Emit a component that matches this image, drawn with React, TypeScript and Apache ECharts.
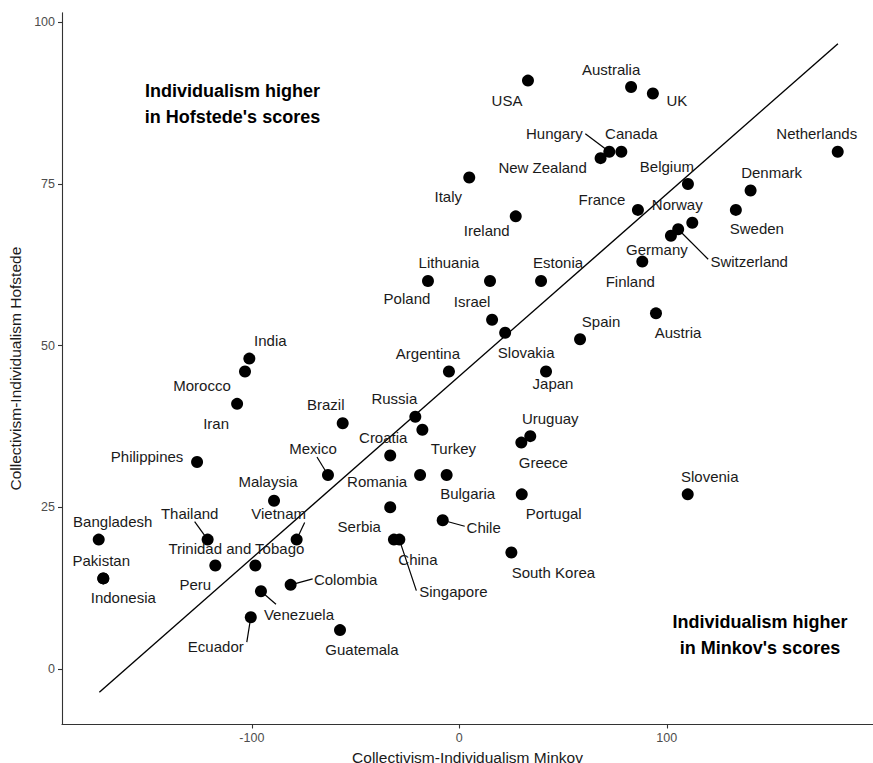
import React, { useEffect, useRef } from "react";
import * as echarts from "echarts";

const countries = [
  "USA", "Australia", "UK", "Hungary", "Canada", "New Zealand", "Netherlands", "Belgium", "Denmark",
  "France", "Norway", "Sweden", "Switzerland", "Germany", "Finland", "Austria", "Italy", "Ireland",
  "Poland", "Lithuania", "Estonia", "Israel", "Slovakia", "Spain", "Japan", "Argentina", "Russia",
  "Turkey", "Croatia", "Brazil", "Mexico", "Romania", "Bulgaria", "Serbia", "Chile", "China",
  "Singapore", "Uruguay", "Greece", "Portugal", "South Korea", "Slovenia", "Guatemala", "Colombia",
  "Venezuela", "Ecuador", "Trinidad and Tobago", "Peru", "Thailand", "Vietnam", "Bangladesh",
  "Pakistan", "Indonesia", "Malaysia", "Philippines", "Iran", "Morocco", "India",
];
const minkov = [
  33.1, 82.8, 93.3, 72.3, 78.1, 68.1, 182.4, 110.2, 140.4,
  86.1, 112.3, 133.3, 105.5, 102.0, 88.2, 94.8, 4.8, 27.2,
  -15.1, 14.8, 39.4, 15.8, 22.1, 58.2, 41.8, -5.0, -21.2,
  -17.8, -33.3, -56.2, -63.3, -18.9, -6.1, -33.3, -8.0, -31.5,
  -28.9, 34.2, 29.9, 30.1, 25.1, 110.1, -57.5, -81.3,
  -95.6, -100.5, -98.3, -117.6, -121.3, -78.4, -173.8,
  -171.6, -171.6, -89.3, -126.4, -107.1, -103.3, -101.2,
];
const hofstede = [
  91, 90, 89, 80, 80, 79, 80, 75, 74,
  71, 69, 71, 68, 67, 63, 55, 76, 70,
  60, 60, 60, 54, 52, 51, 46, 46, 39,
  37, 33, 38, 30, 30, 30, 25, 23, 20,
  20, 36, 35, 27, 18, 27, 6, 13,
  12, 8, 16, 16, 20, 20, 20,
  14, 14, 26, 32, 41, 46, 48,
];
// fitted line end points (Minkov, Hofstede)
const fitX = [-173.5, 182.5];
const fitY = [-3.6, 96.7];
const xTicks = [-100, 0, 100];
const yTicks = [0, 25, 50, 75, 100];

// label centre offsets from each dot, in pixels (layout only)
const labelOffset: Record<string, [number, number]> = {
  USA: [-21, 20], Australia: [-20, -18], UK: [24, 7], Hungary: [-55, -18], Canada: [10, -18],
  "New Zealand": [-58, 9], Netherlands: [-21, -18], Belgium: [-21, -18], Denmark: [21, -18],
  France: [-36, -10], Norway: [-15, -18], Sweden: [21, 19], Switzerland: [71, 32], Germany: [-14, 14],
  Finland: [-12, 20], Austria: [22, 19], Italy: [-21, 19], Ireland: [-29, 14], Poland: [-21, 18],
  Lithuania: [-41, -18], Estonia: [17, -18], Israel: [-20, -18], Slovakia: [21, 20], Spain: [21, -18],
  Japan: [7, 12], Argentina: [-21, -18], Russia: [-21, -18], Turkey: [31, 19], Croatia: [-7, -18],
  Brazil: [-17, -19], Mexico: [-15, -26], Romania: [-43, 7], Bulgaria: [21, 19], Serbia: [-31, 19],
  Chile: [41, 7], China: [24, 20], Singapore: [54, 52], Uruguay: [20, -18], Greece: [22, 20],
  Portugal: [32, 19], "South Korea": [42, 20], Slovenia: [22, -18], Guatemala: [22, 19],
  Colombia: [55, -5], Venezuela: [38, 23], Ecuador: [-35, 29], "Trinidad and Tobago": [-19, -17],
  Peru: [-20, 19], Thailand: [-18, -26], Vietnam: [-18, -26], Bangladesh: [14, -18], Pakistan: [-2, -18],
  Indonesia: [20, 19], Malaysia: [-6, -19], Philippines: [-50, -6], Iran: [-21, 20], Morocco: [-43, 14],
  India: [21, -18],
};
// connector segment end offsets from the dot (layout only)
const segmentEnd: Record<string, [number, number]> = {
  Hungary: [-24, -18], Switzerland: [30, 30], Mexico: [-11, -18], Chile: [22, 6],
  Singapore: [17, 51], Colombia: [22, -6], Venezuela: [15, 13], Ecuador: [-4, 25],
  Thailand: [-13, -18], Vietnam: [8, -17],
};

const FONT = "'Liberation Sans', Arial, Helvetica, sans-serif";

export default function App() {
  const ref = useRef<HTMLDivElement>(null);
  useEffect(() => {
    if (!ref.current) return;
    const chart = echarts.init(ref.current, undefined, { renderer: "svg" });
    const pts = countries.map((c, i) => [minkov[i], hofstede[i], i]);
    const segs = pts.filter((d) => segmentEnd[countries[d[2]]]);
    const fit = fitX.map((x, i) => [x, fitY[i]]);
    chart.setOption({
      animation: false,
      backgroundColor: "#ffffff",
      textStyle: { fontFamily: FONT },
      grid: { left: 62, right: 0, top: 12.7, bottom: 38.5, outerBoundsMode: "none", containLabel: false },
      xAxis: {
        type: "value",
        min: -191.5,
        max: 199.4,
        splitLine: { show: false },
        axisLine: { show: true, onZero: false, lineStyle: { color: "#333333", width: 1.1 } },
        axisTick: { show: true, customValues: xTicks, length: 4, lineStyle: { color: "#333333", width: 1.1 } },
        axisLabel: { customValues: xTicks, color: "#4d4d4d", fontSize: 12.5, margin: 7, fontFamily: FONT },
        name: "Collectivism-Individualism Minkov",
        nameLocation: "middle",
        nameGap: 19,
        nameTextStyle: { color: "#1a1a1a", fontSize: 15.5, fontFamily: FONT },
      },
      yAxis: {
        type: "value",
        min: -8.6,
        max: 101.5,
        splitLine: { show: false },
        axisLine: { show: true, onZero: false, lineStyle: { color: "#333333", width: 1.1 } },
        axisTick: { show: true, customValues: yTicks, length: 4, lineStyle: { color: "#333333", width: 1.1 } },
        axisLabel: { customValues: yTicks, color: "#4d4d4d", fontSize: 12.5, margin: 7, fontFamily: FONT },
        name: "Collectivism-Individualism Hofstede",
        nameLocation: "middle",
        nameGap: 35,
        nameTextStyle: { color: "#1a1a1a", fontSize: 15.5, fontFamily: FONT },
      },
      graphic: [
        {
          type: "text",
          x: 232.5,
          y: 104,
          style: {
            text: "Individualism higher\nin Hofstede's scores",
            align: "center",
            verticalAlign: "middle",
            lineHeight: 26,
            fontSize: 18,
            fontWeight: "bold",
            fontFamily: FONT,
            fill: "#000000",
          },
        },
        {
          type: "text",
          x: 760,
          y: 635,
          style: {
            text: "Individualism higher\nin Minkov's scores",
            align: "center",
            verticalAlign: "middle",
            lineHeight: 26,
            fontSize: 18,
            fontWeight: "bold",
            fontFamily: FONT,
            fill: "#000000",
          },
        },
      ],
      series: [
        {
          type: "line",
          data: fit,
          symbol: "none",
          lineStyle: { color: "#000000", width: 1.4 },
          z: 1,
        },
        {
          type: "custom",
          data: segs,
          z: 2,
          renderItem: (params: any, api: any) => {
            const p = api.coord([api.value(0), api.value(1)]);
            const off = segmentEnd[countries[api.value(2)]];
            return {
              type: "line",
              shape: { x1: p[0], y1: p[1], x2: p[0] + off[0], y2: p[1] + off[1] },
              style: { stroke: "#000000", lineWidth: 1.2 },
            };
          },
        },
        {
          type: "scatter",
          data: pts,
          symbolSize: 12,
          itemStyle: { color: "#000000", opacity: 1 },
          z: 3,
        },
        {
          type: "custom",
          data: pts,
          z: 4,
          renderItem: (params: any, api: any) => {
            const p = api.coord([api.value(0), api.value(1)]);
            const name = countries[api.value(2)];
            const off = labelOffset[name] || [0, -18];
            return {
              type: "text",
              x: p[0] + off[0],
              y: p[1] + off[1],
              style: {
                text: name,
                align: "center",
                verticalAlign: "middle",
                fontSize: 15,
                fontFamily: FONT,
                fill: "#1a1a1a",
              },
            };
          },
        },
      ],
    });
    return () => chart.dispose();
  }, []);
  return (
    <div
      ref={ref}
      style={{ position: "fixed", left: 0, top: 0, width: 873, height: 763, background: "#fff" }}
    />
  );
}
